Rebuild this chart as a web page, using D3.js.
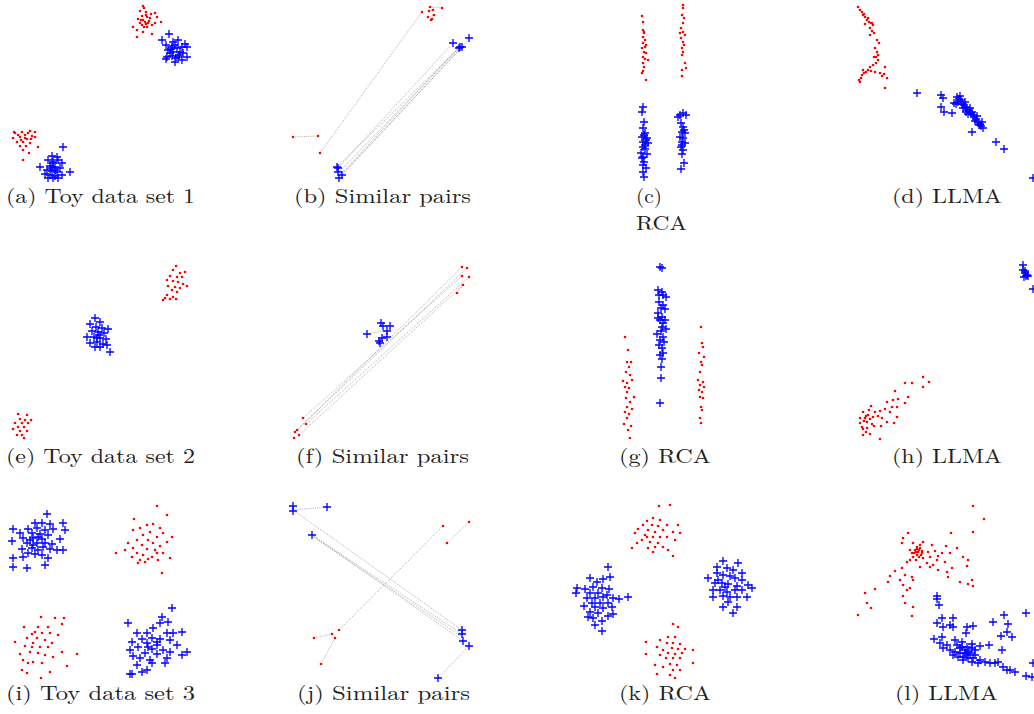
<!DOCTYPE html>
<html><head><meta charset="utf-8">
<script src="https://cdn.jsdelivr.net/npm/d3@7"></script>
<style>html,body{margin:0;padding:0;background:#fff;}svg{display:block;}</style>
</head><body>
<svg id="chart" width="1034" height="714"></svg>
<script>
// ---- Data (panel-local units) ----
const aRed = [[143,6],[144,8],[140,11],[146,12],[151,14],[155,13],[157,17],[142,16],[147,17],[138,19],[143,20],[149,21],[155,23],[161,22],[133,27],[137,30],[142,25],[147,27],[152,34],[143,32],[137,37],[145,22],[148,23],[140,23],[146,15],[150,18],[144,27],[141,20],[152,25],[146,24],
  [14,132],[22,132],[30,131],[35,132],[18,135],[25,135],[32,136],[13,138],[20,137],[27,139],[35,137],[17,142],[23,142],[30,143],[20,146],[26,146],[38,147],[23,150],[29,153],[23,160],[15,133],[28,133],[21,140],[25,138],[31,139]];
const aBlue = [[169,34],[162,40],[173,42],[178,40],[185,44],[166,45],[172,47],[177,48],[187,47],[168,50],[173,52],[180,52],[183,53],[167,57],[172,56],[176,58],[182,60],[187,57],[178,57],[166,59],[175,62],[170,53],[182,47],[175,45],[171,49],[179,55],
  [63,147],[52,156],[57,157],[48,160],[53,162],[58,160],[62,163],[40,167],[50,166],[55,167],[60,168],[47,170],[52,171],[57,172],[70,172],[45,174],[50,175],[55,176],[62,175],[53,178],[58,178],[48,178],[53,163],[55,170],[51,168]];
const bRed = [[13,137],[38,136],[40,153],[142,12],[150,7],[162,8],[149,11],[153,10],[154,15],[148,17],[151,20],[152,19]];
const bBlue = [[173,43],[180,47],[179,48],[182,47],[189,38],[58,168],[57,167],[58,172],[62,175],[59,178]];
const bLines = [[13,137,38,136],[40,153,142,12],[150,7,162,8],[148,17,154,15],[149,11,153,10],
  [58,168,173,43],[57,167,179,48],[59,172,180,47],[62,175,182,47],[59,178,181,48],[61,174,179,47],[182,47,189,38]];
const cRed = [[42,16],[43,22],[43,30],[44,33],[43,37],[45,40],[43,43],[46,45],[42,48],[44,52],[46,53],[43,57],[45,59],[48,60],[43,63],[44,67],[43,71],[42,73],[46,80],[44,32],[45,47],
  [83,5],[83,8],[82,15],[84,18],[83,23],[81,28],[83,32],[85,35],[81,38],[83,42],[84,45],[82,48],[83,52],[82,55],[85,63],[86,68],[82,70],[82,76],[80,33]];
const cBlue = [[43,107],[42,112],[44,122],[43,128],[45,133],[42,137],[47,138],[43,142],[48,143],[43,147],[45,149],[41,153],[47,154],[43,157],[44,162],[43,165],[46,168],[43,172],[44,177],[46,140],[42,158],[44,135],[45,145],
  [80,115],[83,113],[81,123],[83,127],[82,132],[85,133],[80,137],[83,138],[82,142],[85,143],[81,147],[83,150],[82,154],[84,163],[81,169],[86,115],[78,117],[84,130],[82,145]];
const dRed = [[18,7],[20,10],[22,12],[23,15],[25,17],[27,20],[29,22],[31,23],[33,25],[30,28],[32,31],[34,33],[37,40],[39,43],[35,48],[37,52],[36,57],[38,60],[36,63],[33,65],[30,67],[28,70],[26,72],[24,73],[22,75],[21,78],[20,82],[19,80],[45,67],[44,74],[42,76],[47,78],[45,88],[40,73],[35,72],[31,71],[23,70],[28,18],[25,24],[30,35],[38,55],[24,14],[32,23],[34,57]];
const dBlue = [[77,93],[101,95],[103,98],[101,107],[104,112],[112,113],[132,132],[156,142],[164,149],[193,178],
  [117,97],[119,99],[121,100],[118,102],[122,104],[124,105],[126,107],[123,108],[127,110],[129,111],[131,113],[128,114],[133,115],[134,117],[136,119],[135,121],[138,122],[140,124],[141,126],[143,128],[116,104],[120,96],[125,102],[130,108],[137,116],[139,125],[132,112],[126,112],[114,103],[142,122]];
const eRed = [[176,11],[173,15],[180,18],[185,17],[170,21],[177,22],[182,22],[167,25],[173,26],[178,27],[183,29],[187,31],[168,31],[175,32],[180,33],[172,35],[177,37],[167,40],[173,42],[163,45],[170,44],[176,44],[165,43],
  [18,159],[27,160],[20,164],[25,165],[31,165],[15,168],[22,168],[28,168],[18,172],[24,172],[13,174],[20,176],[27,176],[22,180],[24,183],[17,180]];
const eBlue = [[95,63],[90,69],[100,67],[96,72],[102,73],[108,74],[92,76],[98,77],[104,78],[87,82],[94,82],[100,83],[106,84],[90,88],[97,87],[103,89],[95,92],[100,92],[110,97],[107,90],[97,83],[99,80]];
const fRed = [[182,12],[187,13],[182,21],[189,22],[183,30],[177,38],[23,163],[26,169],[17,175],[15,177],[19,180],[14,183]];
const fBlue = [[101,68],[103,71],[110,71],[107,76],[87,79],[102,83],[107,82],[100,88],[99,86]];
const fLines = [[23,163,182,21],[26,169,189,22],[17,175,182,12],[15,177,187,13],[19,180,183,30],[177,38,183,30],[87,79,103,76],[102,83,107,76]];
const gRed = [[25,82],[28,95],[27,107],[31,107],[29,112],[26,117],[30,120],[23,126],[32,125],[27,128],[25,132],[29,133],[27,137],[34,142],[26,143],[30,147],[27,152],[32,154],[25,157],[29,159],[27,163],[24,169],[31,171],[28,175],[30,183],
  [101,72],[102,88],[103,92],[99,98],[104,102],[101,107],[102,110],[100,117],[98,125],[103,127],[100,130],[104,132],[99,135],[102,137],[100,142],[103,143],[101,152],[102,155],[100,163],[101,168]];
const gBlue = [[60,12],[62,13],[58,35],[62,37],[66,42],[59,47],[63,50],[61,53],[65,54],[58,58],[62,62],[60,65],[63,68],[66,74],[61,76],[57,79],[63,82],[60,85],[64,87],[59,90],[62,93],[63,98],[60,100],[62,104],[61,112],[61,123],[60,148],[58,63],[65,65],[62,72],[59,40],[63,40]];
const hRed = [[83,122],[89,127],[72,128],[65,128],[83,132],[55,136],[68,142],[53,145],[58,144],[47,147],[65,148],[57,152],[52,152],[31,151],[45,154],[40,156],[35,157],[23,157],[28,160],[33,162],[38,161],[20,163],[25,163],[30,164],[42,163],[47,167],[20,168],[27,167],[32,169],[57,162],[54,168],[34,171],[41,171],[23,174],[26,177],[30,179],[23,180],[40,184],[27,173],[22,172],[29,155],[50,157],[24,166],[26,161]];
const hBlue = [[183,10],[183,15],[185,18],[187,20],[184,22],[188,21],[193,34],[185,16],[186,21]];
const iRed = [[157,16],[134,29],[167,25],[147,35],[153,34],[140,38],[160,38],[133,40],[150,42],[163,43],[143,45],[157,47],[172,47],[137,50],[148,50],[167,52],[128,53],[153,53],[142,55],[160,56],[133,58],[147,59],[125,60],[155,60],[116,63],[137,63],[163,63],[143,65],[152,67],[132,67],[170,68],[140,70],[148,69],[158,70],[138,73],[162,83],[145,72],[157,63],
  [41,127],[55,128],[64,128],[24,137],[38,137],[48,137],[62,134],[32,144],[42,143],[50,143],[58,145],[27,148],[37,148],[45,150],[15,152],[33,153],[52,153],[25,156],[40,157],[48,157],[62,162],[30,162],[20,164],[38,163],[45,165],[77,164],[53,167],[23,170],[33,172],[42,173],[28,173],[67,176],[22,180],[50,182],[27,183],[41,188],[35,142],[32,157]];
const iBlue = [[47,24],[35,33],[42,33],[50,34],[63,33],[13,39],[28,39],[37,38],[45,40],[53,39],[65,40],[20,43],[32,43],[40,44],[48,45],[12,51],[23,48],[33,48],[42,49],[60,49],[27,53],[37,53],[45,53],[52,54],[22,59],[32,58],[38,60],[50,59],[57,60],[63,60],[28,63],[35,64],[42,65],[13,68],[23,67],[48,68],[13,77],[27,78],[45,75],[33,55],[38,47],[43,57],[30,50],
  [172,118],[128,133],[162,127],[168,132],[160,133],[153,138],[137,143],[147,143],[167,143],[173,143],[182,142],[142,149],[152,148],[160,149],[132,152],[170,150],[147,153],[157,155],[177,155],[138,157],[152,159],[130,160],[163,160],[170,162],[145,163],[157,164],[187,162],[133,166],[182,165],[140,168],[150,170],[167,168],[137,175],[152,173],[165,173],[147,180],[142,182],[132,184],[130,184],[157,152],[148,157]];
const jRed = [[163,36],[189,32],[167,53],[34,148],[52,144],[59,140],[55,148],[41,174]];
const jBlue = [[13,16],[13,21],[47,17],[32,45],[182,140],[182,144],[183,151],[189,156],[158,188]];
const jLines = [[13,20,47,17],[13,20,182,140],[32,45,182,144],[32,45,183,151],[32,46,182,147],[189,156,158,188],
  [163,36,59,140],[55,148,41,174],[34,148,52,144],[189,32,167,53]];
const kRed = [[110,15],[99,16],[93,28],[87,31],[100,30],[83,35],[92,35],[98,36],[107,35],[118,35],[78,39],[88,40],[95,42],[103,40],[113,42],[75,43],[85,45],[93,47],[100,47],[107,47],[82,50],[90,52],[98,53],[115,50],[77,53],[95,57],[103,57],[88,58],[108,60],[72,58],[93,62],[113,66],[120,43],[87,47],
  [113,134],[118,137],[108,147],[115,147],[100,150],[107,153],[113,153],[120,154],[86,152],[97,157],[112,158],[118,159],[125,159],[103,160],[133,160],[108,163],[115,164],[122,163],[86,164],[100,165],[106,168],[113,168],[120,168],[133,173],[95,175],[110,174],[117,175],[103,177],[113,180],[120,180],[97,184],[110,185],[115,188]];
const kBlue = [[48,77],[30,88],[43,89],[50,87],[37,92],[17,98],[25,99],[33,97],[42,98],[49,99],[16,103],[30,103],[38,103],[47,105],[27,108],[35,108],[43,107],[53,108],[59,109],[68,107],[32,113],[40,113],[48,113],[24,116],[35,117],[43,118],[52,117],[30,122],[38,123],[48,126],[33,128],[42,131],[35,135],[42,141],[53,124],[28,127],
  [163,71],[178,73],[157,77],[167,78],[173,80],[182,83],[157,83],[163,85],[170,86],[148,88],[175,88],[182,90],[155,93],[162,93],[168,94],[177,96],[188,95],[192,98],[153,100],[160,100],[167,102],[175,100],[182,100],[163,106],[170,107],[177,107],[153,107],[187,107],[168,112],[163,117],[177,117],[173,123],[158,90],[165,97]];
const lRed = [[133,16],[144,29],[68,43],[111,43],[133,42],[63,48],[62,53],[73,53],[83,52],[92,55],[106,56],[117,58],[77,57],[80,58],[75,60],[78,62],[72,63],[82,63],[88,62],[95,61],[102,63],[73,67],[79,67],[77,65],[70,70],[76,70],[83,68],[90,67],[98,66],[110,63],[123,67],[128,70],[67,72],[87,73],[93,75],[105,72],[80,77],[90,77],[98,80],[112,78],[127,76],[62,78],[55,81],[65,85],[50,86],[72,87],[48,92],[60,90],[108,87],[120,92],[132,90],[73,90],[63,95],[128,94],[133,96],[70,98],[35,99],[25,103],[67,100],[63,106],[27,113],[31,118],[65,113],[73,117],[18,125],[72,126],[80,55],[77,59],[82,61],[74,63],[70,60],[97,70],[107,82],[79,60],[76,62],[81,65]];
const lBlue = [[97,106],[97,109],[99,115],[102,128],[113,128],[97,133],[110,135],[113,137],[103,137],[133,136],[127,137],[153,132],[164,125],[186,123],[168,134],[161,146],[167,142],[172,147],[126,143],[94,149],[102,147],[100,153],[107,155],[115,150],[117,155],[122,157],[127,157],[132,158],[140,156],[149,155],[162,160],[103,158],[110,160],[115,162],[120,163],[125,163],[130,163],[135,165],[113,165],[118,167],[123,167],[128,168],[133,168],[140,170],[145,172],[150,173],[155,173],[158,172],[163,177],[170,180],[175,182],[167,180],[186,186],[192,187],[193,173],[123,170],[132,172],[138,173],[120,158],[125,160],[128,162],[122,152],[132,154],[135,160],[127,165]];
const captions = ["(a) Toy data set 1","(b) Similar pairs","(c)","(d) LLMA","(e) Toy data set 2","(f) Similar pairs","(g) RCA","(h) LLMA","(i) Toy data set 3","(j) Similar pairs","(k) RCA","(l) LLMA"];

// ---- Layout ----
const panels = [
  {ox:0,oy:0,red:aRed,blue:aBlue,lines:[],cap:0,cx:6,cw:189,cy:203},
  {ox:280,oy:0,red:bRed,blue:bBlue,lines:bLines,cap:1,cx:294,cw:177,cy:203},
  {ox:600,oy:0,red:cRed,blue:cBlue,lines:[],cap:2,cx:636,cw:26,cy:203},
  {ox:840,oy:0,red:dRed,blue:dBlue,lines:[],cap:3,cx:892,cw:110,cy:203},
  {ox:0,oy:255,red:eRed,blue:eBlue,lines:[],cap:4,cx:6,cw:189,cy:463},
  {ox:280,oy:255,red:fRed,blue:fBlue,lines:fLines,cap:5,cx:296,cw:173,cy:463},
  {ox:600,oy:255,red:gRed,blue:gBlue,lines:[],cap:6,cx:619,cw:92,cy:463},
  {ox:840,oy:255,red:hRed,blue:hBlue,lines:[],cap:7,cx:892,cw:110,cy:463},
  {ox:0,oy:490,red:iRed,blue:iBlue,lines:[],cap:8,cx:6,cw:189,cy:700},
  {ox:280,oy:490,red:jRed,blue:jBlue,lines:jLines,cap:9,cx:297,cw:173,cy:700},
  {ox:560,oy:490,red:kRed,blue:kBlue,lines:[],cap:10,cx:619,cw:92,cy:700},
  {ox:840,oy:490,red:lRed,blue:lBlue,lines:[],cap:11,cx:895,cw:103,cy:700}
];

const svg = d3.select("#chart");
const font = "'Latin Modern Roman','CMU Serif','Liberation Serif','DejaVu Serif',serif";

panels.forEach(p => {
  const x = d3.scaleLinear().domain([0,200]).range([p.ox, p.ox+200]);
  const y = d3.scaleLinear().domain([0,230]).range([p.oy, p.oy+230]);
  const g = svg.append("g");
  g.selectAll("line.pair").data(p.lines).join("line")
    .attr("x1",d=>x(d[0])).attr("y1",d=>y(d[1])).attr("x2",d=>x(d[2])).attr("y2",d=>y(d[3]))
    .attr("stroke","#888").attr("stroke-width",0.8).attr("stroke-dasharray","1,1.2").attr("opacity",0.85);
  g.selectAll("circle.r").data(p.red).join("circle")
    .attr("cx",d=>x(d[0])).attr("cy",d=>y(d[1])).attr("r",1.3).attr("fill","#ff0000");
  g.selectAll("path.b").data(p.blue).join("path")
    .attr("d",d=>{const cx=x(d[0]),cy=y(d[1]),s=4;return `M${cx-s},${cy}H${cx+s}M${cx},${cy-s}V${cy+s}`;})
    .attr("stroke","#0000ff").attr("stroke-width",1.3).attr("fill","none").attr("opacity",1);
  svg.append("text").attr("x",p.cx).attr("y",p.cy).text(captions[p.cap])
    .attr("font-family",font).attr("font-size",20).attr("fill","#222")
    .attr("textLength",p.cw).attr("lengthAdjust","spacingAndGlyphs");
});
svg.append("text").attr("x",636).attr("y",230).text("RCA")
  .attr("font-family",font).attr("font-size",20).attr("fill","#222")
  .attr("textLength",51).attr("lengthAdjust","spacingAndGlyphs");
</script>
</body></html>
